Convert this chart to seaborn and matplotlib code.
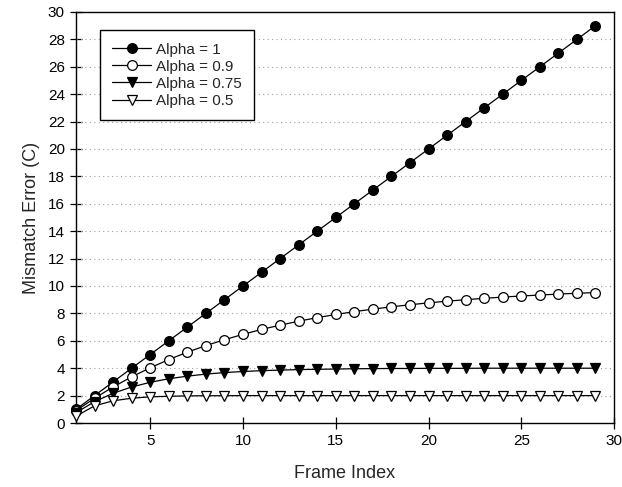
import numpy as np
import matplotlib
matplotlib.use("Agg")
import matplotlib.pyplot as plt
import seaborn as sns

# -------------------------------
# DATA
# -------------------------------

frames = list(range(1, 30))

err_alpha_1 = [1, 2, 3, 4, 5, 6, 7, 8, 9, 10, 11, 12, 13, 14, 15, 16, 17, 18, 19,
               20, 21, 22, 23, 24, 25, 26, 27, 28, 29]
err_alpha_09 = [0.9, 1.81, 2.63, 3.37, 4.03, 4.63, 5.17, 5.65, 6.08, 6.47, 6.83,
                7.14, 7.43, 7.69, 7.92, 8.13, 8.31, 8.48, 8.63, 8.77, 8.89, 9.0,
                9.1, 9.19, 9.27, 9.34, 9.41, 9.47, 9.52]
err_alpha_075 = [0.75, 1.56, 2.17, 2.63, 2.97, 3.23, 3.42, 3.57, 3.68, 3.76, 3.82,
                 3.86, 3.9, 3.92, 3.94, 3.96, 3.97, 3.98, 3.98, 3.99, 3.99, 3.99,
                 4.0, 4.0, 4.0, 4.0, 4.0, 4.0, 4.0]
err_alpha_05 = [0.5, 1.25, 1.62, 1.81, 1.91, 1.95, 1.98, 1.99, 1.99, 2.0, 2.0,
                2.0, 2.0, 2.0, 2.0, 2.0, 2.0, 2.0, 2.0, 2.0, 2.0, 2.0, 2.0, 2.0,
                2.0, 2.0, 2.0, 2.0, 2.0]

labels = ["Alpha = 1", "Alpha = 0.9", "Alpha = 0.75", "Alpha = 0.5"]

x_ticks = [5, 10, 15, 20, 25, 30]
y_ticks = list(range(0, 31, 2))

# -------------------------------
# PLOT
# -------------------------------

sns.set_style("ticks")
plt.rcParams["font.family"] = ["Liberation Sans", "DejaVu Sans"]

fig = plt.figure(figsize=(6.22, 4.87), dpi=100)
ax = fig.add_axes([0.1222, 0.1314, 0.8650, 0.8440])

series = [
    (err_alpha_1, "o", "black"),
    (err_alpha_09, "o", "white"),
    (err_alpha_075, "v", "black"),
    (err_alpha_05, "v", "white"),
]

for (vals, mk, face), lab in zip(series, labels):
    sns.lineplot(
        x=frames, y=vals, ax=ax, color="black", linewidth=0.9,
        marker=mk, markersize=7, markerfacecolor=face,
        markeredgecolor="black", markeredgewidth=0.9, label=lab,
        zorder=3, clip_on=False,
    )

ax.set_xlim(1, 30)
ax.set_ylim(0, 30)
ax.set_xticks(x_ticks)
ax.set_yticks(y_ticks)

# dotted horizontal grid only
for yv in y_ticks[1:-1]:
    ax.axhline(yv, color="#a0a0a0", linestyle=(0, (1, 3)), linewidth=0.8, zorder=1)

for side in ["top", "right", "left", "bottom"]:
    ax.spines[side].set_visible(True)
    ax.spines[side].set_color("black")
    ax.spines[side].set_linewidth(1.0)

ax.tick_params(direction="inout", length=9, width=0.9, labelsize=11,
               colors="black", top=False, right=False)

ax.set_xlabel("Frame Index", fontsize=13, labelpad=12)
ax.set_ylabel("Mismatch Error (C)", fontsize=13, labelpad=6)

leg = ax.legend(loc="upper left", bbox_to_anchor=(0.045, 0.955),
                fontsize=11, frameon=True, fancybox=False, edgecolor="black",
                handlelength=2.5, borderpad=0.8, labelspacing=0.2,
                handletextpad=0.35, borderaxespad=0.0, framealpha=1)
leg.get_frame().set_linewidth(1.0)

fig.savefig("out.png", dpi=100)
